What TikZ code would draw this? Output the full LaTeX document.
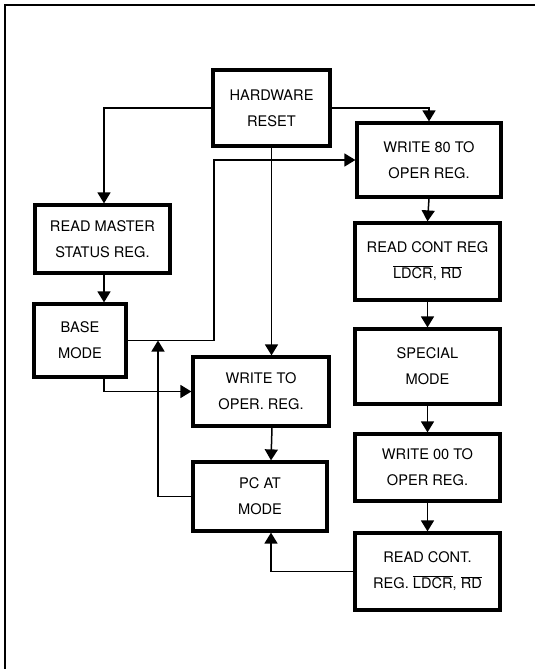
\documentclass[tikz,border=0pt]{standalone}
\usepackage{fontspec}
\setmainfont{TeX Gyre Heros}
\usetikzlibrary{arrows.meta}
\newcommand{\ovl}[1]{$\overline{\mbox{#1}}$}
\begin{document}
\begin{tikzpicture}[x=1pt,y=-1pt,
 box/.style={draw,line width=3.2pt,align=center,inner sep=0pt,font=\fontsize{14.6}{26}\selectfont},
 conn/.style={line width=1.5pt},
 arr/.style={conn,-{Triangle[length=11pt,width=13pt]}}]
\useasboundingbox (0,0) rectangle (535,669);
\draw[line width=1.5pt] (535,5) -- (5,5) -- (5,669);

\node[box,minimum width=117pt,minimum height=76pt] (hr) at (271.5,108) {HARDWARE\\RESET};
\node[box,minimum width=135pt,minimum height=68pt] (rm) at (102.5,239) {READ MASTER\\STATUS REG.};
\node[box,minimum width=144pt,minimum height=74pt] (w80) at (429,160) {WRITE 80 TO\\OPER REG.};
\node[box,minimum width=145pt,minimum height=77pt] (rcr) at (427.5,261.5) {READ CONT REG\\\ovl{LDCR}, \ovl{RD}};
\node[box,minimum width=145pt,minimum height=75pt] (sm) at (427.5,366.5) {SPECIAL\\MODE};
\node[box,minimum width=145pt,minimum height=67pt] (w00) at (427.5,467.5) {WRITE 00 TO\\OPER REG.};
\node[box,minimum width=145pt,minimum height=77pt] (rc2) at (427.5,571.5) {READ CONT.\\REG. \ovl{LDCR}, \ovl{RD}};
\node[box,minimum width=92pt,minimum height=73pt] (bm) at (80,340.5) {BASE\\MODE};
\node[box,minimum width=136pt,minimum height=69pt] (wt) at (261,391.5) {WRITE TO\\OPER. REG.};
\node[box,minimum width=134pt,minimum height=69pt] (pc) at (260,496.5) {PC AT\\MODE};

\coordinate (j1) at (214,340.5);
\coordinate (m) at (158,340.5);

\draw[arr] (hr.west) -| ([xshift=1.5pt]rm.north);
\draw[arr] (hr.east) -| (w80.north);
\draw[arr] (w80.south) -- (rcr.north);
\draw[arr] (rcr.south) -- (sm.north);
\draw[arr] (sm.south) -- (w00.north);
\draw[arr] (w00.south) -- (rc2.north);
\draw[arr] (hr.south) -- (hr.south |- wt.north);
\draw[arr] ([xshift=1.5pt]rm.south) -- ([xshift=1.5pt]rm.south |- bm.north);
\draw[arr] ([xshift=1.5pt]rm.south |- bm.south) |- (wt.west);
\draw[conn] (bm.east) -- (j1);
\draw[arr] (j1) |- (w80.west);
\draw[arr] (pc.west) -| (m);
\draw[arr] ([xshift=11pt]wt.south) -- ([xshift=11pt]pc.north);
\draw[arr] (rc2.west) -| ([xshift=11pt]pc.south);
\end{tikzpicture}
\end{document}
